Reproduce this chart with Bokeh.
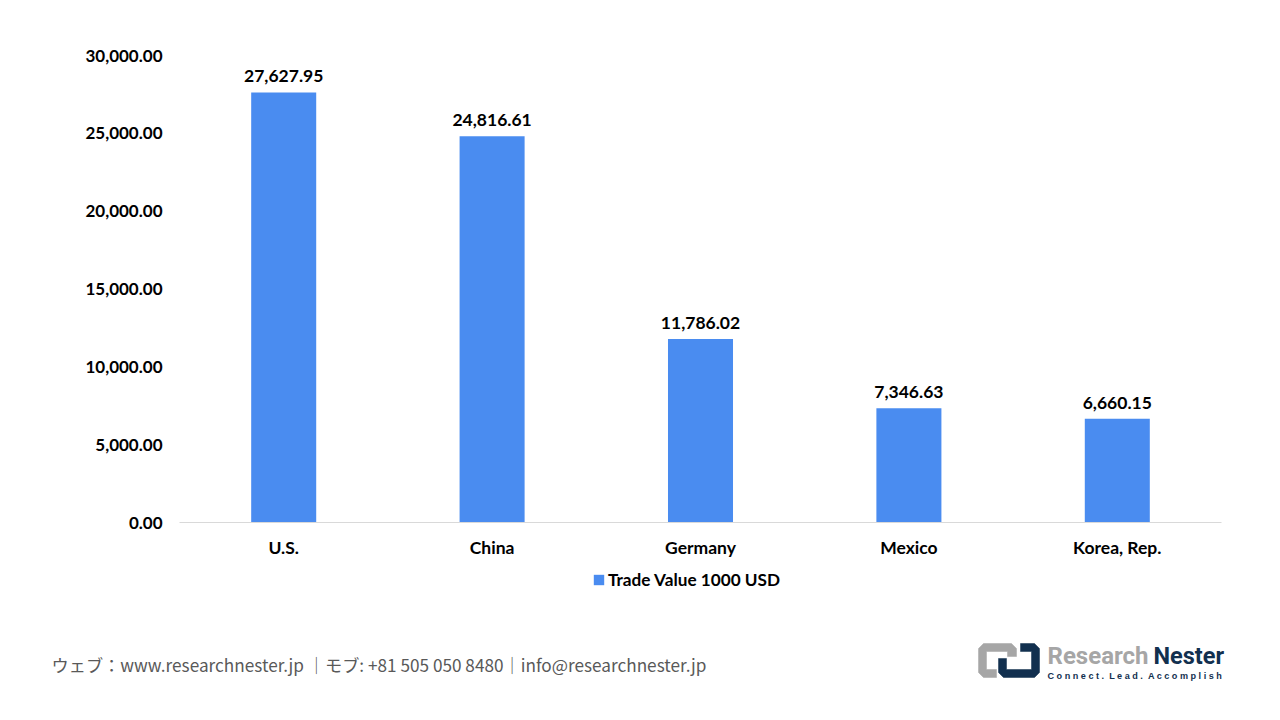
from bokeh.plotting import figure
from bokeh.layouts import column
from bokeh.models import ColumnDataSource, Legend, LegendItem, NumeralTickFormatter, Range1d, FactorRange
from bokeh.core.properties import value
from bokeh.embed import file_html
from bokeh.resources import INLINE

categories = ["U.S.", "China", "Germany", "Mexico", "Korea, Rep."]
trade_value = [27627.95, 24816.61, 11786.02, 7346.63, 6660.15]
value_labels = ["27,627.95", "24,816.61", "11,786.02", "7,346.63", "6,660.15"]
series_name = "Trade Value 1000 USD"
footer = "ウェブ：www.researchnester.jp ｜モブ: +81 505 050 8480｜info@researchnester.jp"

W = 1280
FONT = "Lato"
BAR = "#4A8CF0"
GRAY = "#A6A6A6"
NAVY = "#12304F"

p = figure(width=W, height=560, x_range=FactorRange(factors=categories, range_padding=0),
           y_range=Range1d(0, 30000), output_backend="svg", toolbar_location=None,
           min_border_left=179, min_border_right=59, min_border_top=55, min_border_bottom=37)
p.frame_align = False
p.outline_line_color = None
p.grid.visible = False

src = ColumnDataSource(dict(cat=categories, val=trade_value, lab=value_labels))
p.vbar(x="cat", top="val", width=0.312, bottom=0, source=src, fill_color=BAR, line_color=None)
p.text(x="cat", y="val", text="lab", source=src, text_align="center", text_baseline="bottom", y_offset=-10,
       text_font=value(FONT), text_font_style="bold", text_font_size="17.5px", text_color="black")

p.yaxis.formatter = NumeralTickFormatter(format="0,0.00")
p.yaxis.ticker = [0, 5000, 10000, 15000, 20000, 25000, 30000]
p.yaxis.axis_line_color = None
p.yaxis.major_tick_line_color = None
p.yaxis.minor_tick_line_color = None
p.yaxis.major_label_standoff = 11
p.xaxis.axis_line_color = "#D9D9D9"
p.xaxis.major_tick_line_color = None
p.xaxis.minor_tick_line_color = None
p.xaxis.major_label_standoff = 8
for ax, size in ((p.xaxis, "17.5px"), (p.yaxis, "17px")):
    ax.major_label_text_font = FONT
    ax.major_label_text_font_style = "bold"
    ax.major_label_text_font_size = size
    ax.major_label_text_color = "black"

# lower strip: its ranges are the strip's own pixels, measured from the top of the 1280x720 picture
f = figure(width=W, height=160, x_range=Range1d(0, 1280), y_range=Range1d(720, 560), output_backend="svg",
           toolbar_location=None, min_border=0, min_border_left=0, min_border_right=0, min_border_top=0,
           min_border_bottom=0)
f.frame_align = False
f.axis.visible = False
f.grid.visible = False
f.outline_line_color = None

swatch = f.vbar(x=[-50], top=[600], bottom=[600], width=1, fill_color=BAR, line_color=None)
legend = Legend(items=[LegendItem(label=series_name, renderers=[swatch], index=0)], location=(592, 130),
                background_fill_alpha=0, border_line_color=None, glyph_width=13, glyph_height=13,
                label_text_font=FONT, label_text_font_style="bold", label_text_font_size="17.2px",
                label_text_color="black", label_standoff=3, padding=0, margin=0)
f.add_layout(legend, "center")

f.text(x=[51], y=[664], text=[footer], text_baseline="middle", text_font=value("Noto Sans CJK JP"),
       text_font_size="17.2px", text_color="#595959")

f.patch([983, 1011, 1016, 1016, 1007, 1007, 986, 986, 996, 996, 983, 978, 978],
        [643, 643, 648, 656, 656, 651, 651, 669, 669, 677, 677, 672, 648], color=GRAY, line_width=0.5)
f.patch([1020, 1034, 1039, 1039, 1034, 1003, 998, 998, 1006, 1006, 1031, 1031, 1020],
        [643, 643, 648, 672, 677, 677, 672, 658, 658, 669, 669, 651, 651], color=NAVY, line_width=0.5)

f.text(x=[1047], y=[655], text=["Research"], text_baseline="middle", text_font=value("Roboto"),
       text_font_style="bold", text_font_size="24px", text_color=GRAY)
f.text(x=[1153], y=[655], text=["Nester"], text_baseline="middle", text_font=value("Roboto"),
       text_font_style="bold", text_font_size="23.5px", text_color=NAVY)
f.text(x=[1047], y=[675], text=["C o n n e c t .\u00a0\u00a0L e a d .\u00a0\u00a0A c c o m p l i s h"], text_baseline="middle",
       text_font=value("Liberation Sans"), text_font_style="bold", text_font_size="9.1px", text_color=NAVY)

page = column(p, f, spacing=0)
open("out.html", "w").write(file_html(page, INLINE))
